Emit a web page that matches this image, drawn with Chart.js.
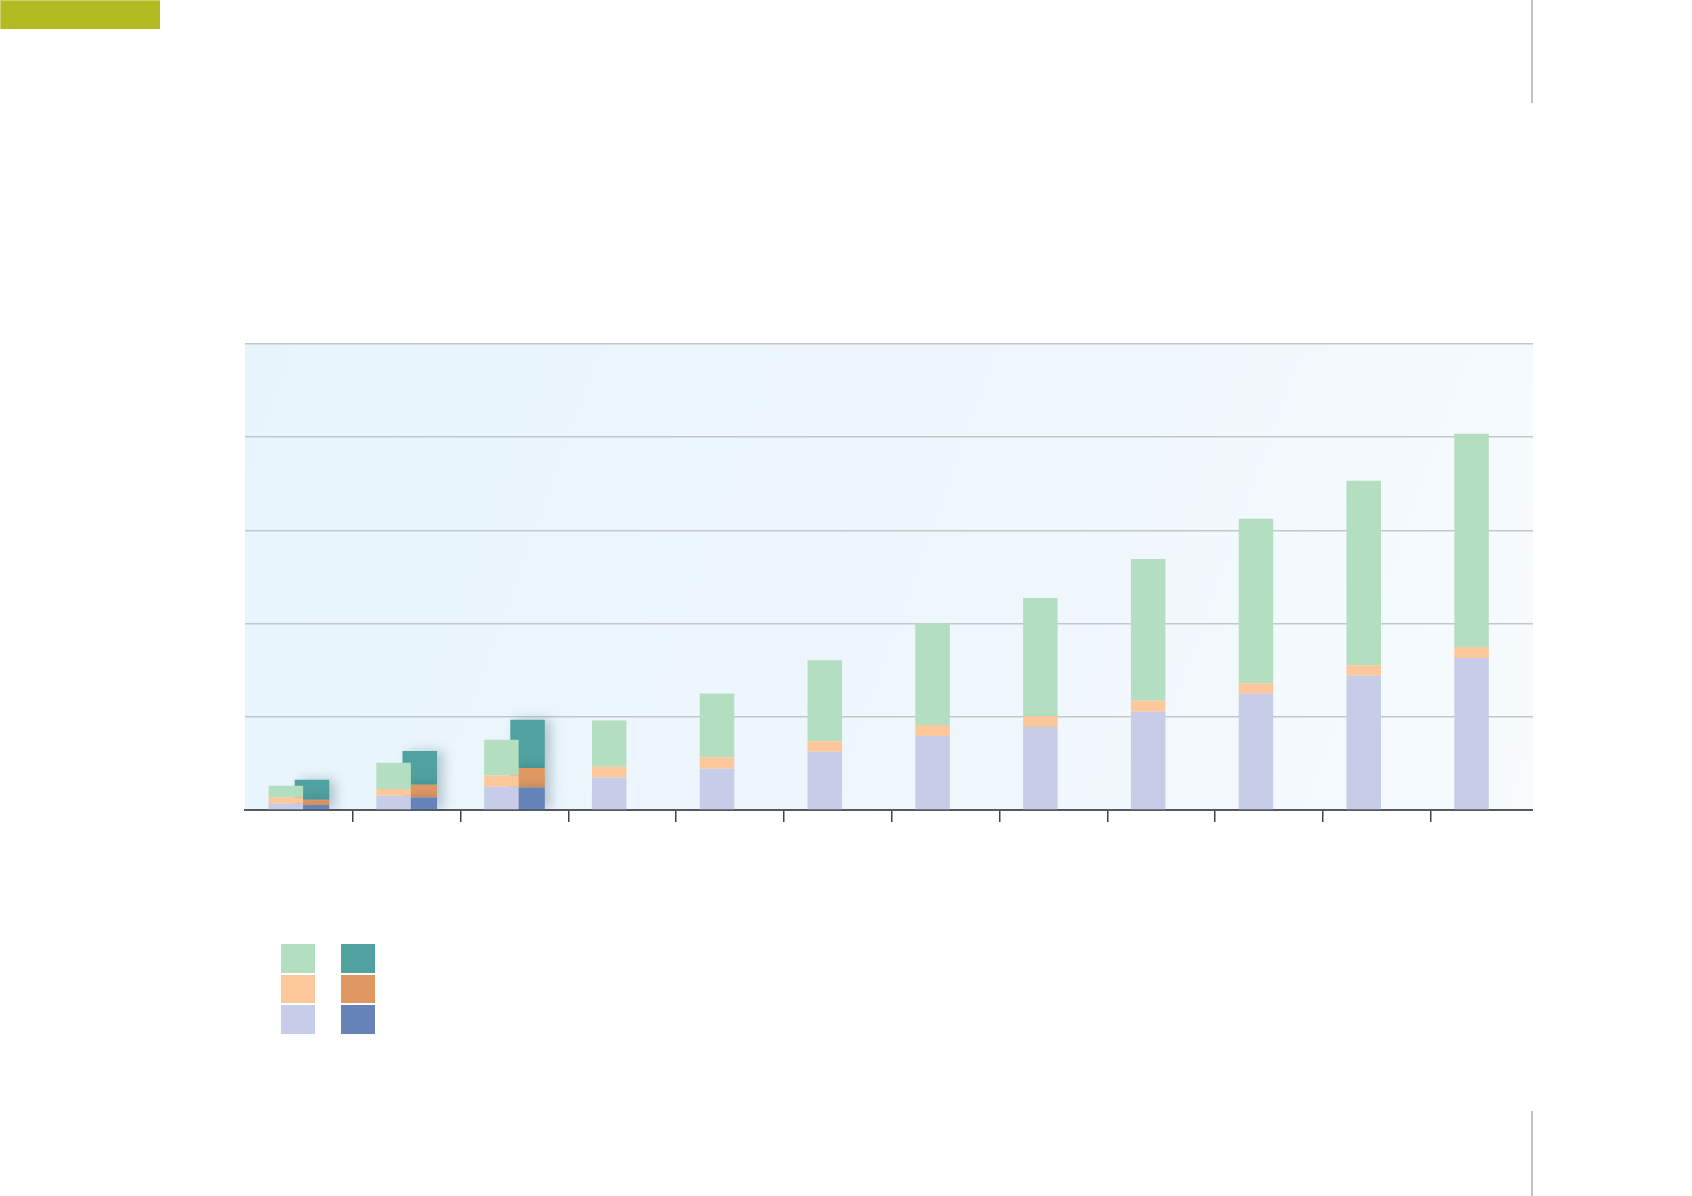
<!DOCTYPE html>
<html>
<head>
<meta charset="utf-8">
<script src="https://cdn.jsdelivr.net/npm/chart.js@4.4.1/dist/chart.umd.min.js"></script>
<style>
  html, body { margin: 0; padding: 0; background: #fff; }
  .page { position: relative; width: 1692px; height: 1196px; overflow: hidden; font-family: "Open Sans", sans-serif; }
  .tag { position: absolute; left: 0; top: 0; width: 160px; height: 29px; background: #b3bb23; box-shadow: inset 1px 1px 0 #cfd36f; }
  .rule { position: absolute; left: 1531px; width: 2px; background: #c1c3c7; }
  .rule.top { top: 0; height: 103px; }
  .rule.bottom { top: 1111px; height: 85px; }
  #chart-wrap { position: absolute; left: 0; top: 0; width: 1692px; height: 1196px; }
  .legend { position: absolute; left: 281px; top: 944px; display: grid; grid-template-columns: 34px 34px; column-gap: 26px; row-gap: 2px; }
  .legend span { display: block; width: 34px; height: 28.5px; }
</style>
</head>
<body>
<div class="page">
  <div class="tag"></div>
  <div class="rule top"></div>
  <div class="rule bottom"></div>
  <div id="chart-wrap"><canvas id="c" width="1692" height="1196"></canvas></div>
  <div class="legend" id="legend"></div>
</div>
<script>
  // 12 periods; the first three also carry a second (dark) stack
  const categories = ['1', '2', '3', '4', '5', '6', '7', '8', '9', '10', '11', '12'];

  // light stack (bottom -> top)
  const lightBase = [6.8, 15.3, 25.0, 35.0, 44.3, 62.5, 79.3, 89.0, 105.4, 124.7, 144.0, 163.0];
  const lightMid  = [6.8, 7.1, 12.1, 11.4, 12.2, 11.4, 11.8, 11.8, 11.8, 11.4, 11.4, 11.8];
  const lightTop  = [12.5, 28.2, 38.3, 49.7, 68.6, 86.8, 109.4, 126.8, 152.2, 176.5, 197.9, 229.0];

  // dark stack (bottom -> top), only first three periods
  const darkBase = [5.4, 13.5, 24.2, null, null, null, null, null, null, null, null, null];
  const darkMid  = [5.7, 13.6, 20.8, null, null, null, null, null, null, null, null, null];
  const darkTop  = [21.4, 36.1, 51.8, null, null, null, null, null, null, null, null, null];

  const yTicks = [0, 100, 200, 300, 400, 500];

  const lightColors = ['#c7cce8', '#fcc79b', '#b4dec0'];
  const darkColors  = ['#6683b9', '#e09862', '#50a2a0'];

  // the last period runs a few px past the visible plot edge in the original
  const plotRightEdge = 1533;

  // legend swatches: rows top->bottom = top, mid, base
  const legend = document.getElementById('legend');
  [2, 1, 0].forEach(i => {
    legend.insertAdjacentHTML('beforeend', `<span style="background:${lightColors[i]}"></span><span style="background:${darkColors[i]}"></span>`);
  });

  const bgPlugin = {
    id: 'plotBg',
    beforeDraw(chart) {
      const { ctx, chartArea: a } = chart;
      const g = ctx.createLinearGradient(a.left, a.top, a.right, a.bottom);
      g.addColorStop(0, '#e6f5fc');
      g.addColorStop(0.5, '#eef6fc');
      g.addColorStop(1, '#f7fbfe');
      ctx.save();
      ctx.fillStyle = g;
      ctx.fillRect(a.left, a.top, a.right - a.left, a.bottom - a.top);
      ctx.restore();
    },
    afterDraw(chart) {
      const { ctx, chartArea: a } = chart;
      ctx.save();
      ctx.fillStyle = '#ffffff';
      ctx.fillRect(plotRightEdge, a.top - 2, a.right - plotRightEdge + 2, a.bottom - a.top + 4);
      ctx.restore();
    }
  };

  const shadowPlugin = {
    id: 'darkShadow',
    beforeDatasetDraw(chart, args) {
      if (chart.data.datasets[args.index].stack !== 'dark') return;
      const ctx = chart.ctx;
      ctx.save();
      ctx.shadowColor = 'rgba(20, 50, 70, 0.25)';
      ctx.shadowBlur = 12;
      ctx.shadowOffsetX = 6;
    },
    afterDatasetDraw(chart, args) {
      if (chart.data.datasets[args.index].stack !== 'dark') return;
      chart.ctx.restore();
    }
  };

  const ds = (data, color, stack) => ({
    data, backgroundColor: color, stack, borderWidth: 0,
    categoryPercentage: 0.485, barPercentage: 1.32
  });

  new Chart(document.getElementById('c'), {
    type: 'bar',
    data: {
      labels: categories,
      datasets: [
        ds(lightBase, lightColors[0], 'light'),
        ds(lightMid, lightColors[1], 'light'),
        ds(lightTop, lightColors[2], 'light'),
        ds(darkBase, darkColors[0], 'dark'),
        ds(darkMid, darkColors[1], 'dark'),
        ds(darkTop, darkColors[2], 'dark')
      ]
    },
    options: {
      responsive: false,
      animation: false,
      layout: { padding: { left: 245, right: 153.5, top: 344, bottom: 386 } },
      plugins: { legend: { display: false }, tooltip: { enabled: false } },
      scales: {
        x: {
          stacked: true,
          afterFit: (s) => { s.height = 0; },
          ticks: { display: false },
          border: { display: true, color: '#555a5e', width: 2 },
          grid: {
            offset: true, drawOnChartArea: false, drawTicks: true, tickLength: 12, lineWidth: 1.5,
            color: (c) => (c.type !== 'tick' || c.index === 0) ? 'rgba(0,0,0,0)' : '#3f4347'
          }
        },
        y: {
          stacked: true,
          min: yTicks[0], max: yTicks[yTicks.length - 1],
          afterFit: (s) => { s.width = 0; },
          afterBuildTicks: (s) => { s.ticks = yTicks.map(v => ({ value: v })); },
          ticks: { display: false },
          border: { display: false },
          grid: { color: '#c4c7ca', lineWidth: 1.5, drawTicks: false }
        }
      }
    },
    plugins: [bgPlugin, shadowPlugin]
  });
</script>
</body>
</html>
